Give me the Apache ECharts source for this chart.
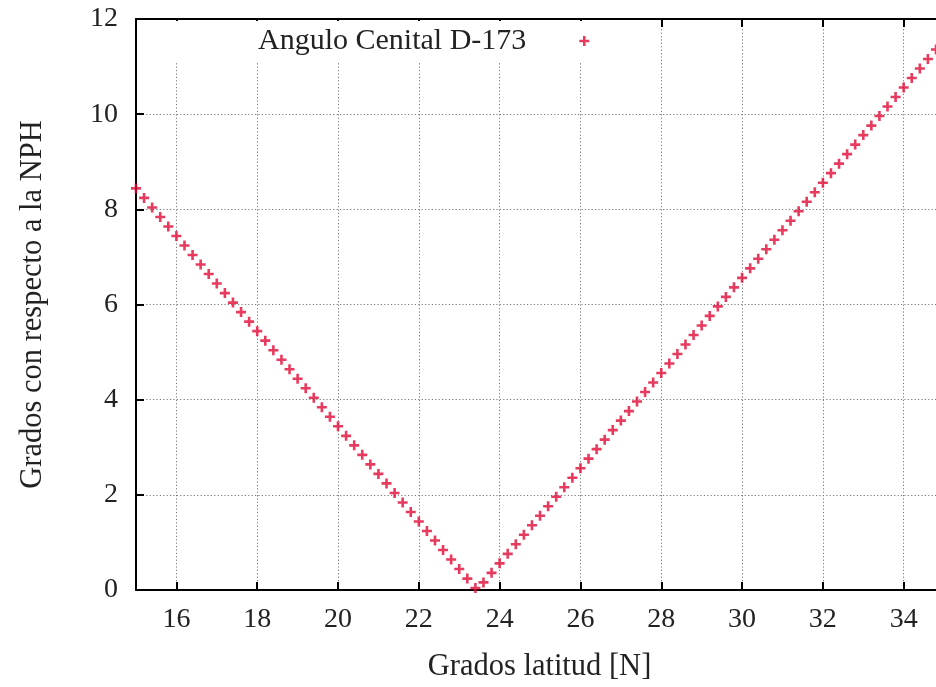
<!DOCTYPE html>
<html>
<head>
<meta charset="utf-8">
<script src="https://cdn.jsdelivr.net/npm/echarts@6/dist/echarts.min.js"></script>
<style>
html,body{margin:0;padding:0;background:#fff;}
#chart{width:936px;height:687px;}
</style>
</head>
<body>
<div id="chart"></div>
<script>
const seriesName = 'Angulo Cenital D-173';
const xLabel = 'Grados latitud [N]';
const yLabel = 'Grados con respecto a la NPH';
const latitudes = [
  15.0,15.2,15.4,15.6,15.8,16.0,16.2,16.4,16.6,16.8,
  17.0,17.2,17.4,17.6,17.8,18.0,18.2,18.4,18.6,18.8,
  19.0,19.2,19.4,19.6,19.8,20.0,20.2,20.4,20.6,20.8,
  21.0,21.2,21.4,21.6,21.8,22.0,22.2,22.4,22.6,22.8,
  23.0,23.2,23.4,23.6,23.8,24.0,24.2,24.4,24.6,24.8,
  25.0,25.2,25.4,25.6,25.8,26.0,26.2,26.4,26.6,26.8,
  27.0,27.2,27.4,27.6,27.8,28.0,28.2,28.4,28.6,28.8,
  29.0,29.2,29.4,29.6,29.8,30.0,30.2,30.4,30.6,30.8,
  31.0,31.2,31.4,31.6,31.8,32.0,32.2,32.4,32.6,32.8,
  33.0,33.2,33.4,33.6,33.8,34.0,34.2,34.4,34.6,34.8,35.0
];
const zenithAngles = [
  8.44,8.24,8.04,7.84,7.64,7.44,7.24,7.04,6.84,6.64,
  6.44,6.24,6.04,5.84,5.64,5.44,5.24,5.04,4.84,4.64,
  4.44,4.24,4.04,3.84,3.64,3.44,3.24,3.04,2.84,2.64,
  2.44,2.24,2.04,1.84,1.64,1.44,1.24,1.04,0.84,0.64,
  0.44,0.24,0.04,0.16,0.36,0.56,0.76,0.96,1.16,1.36,
  1.56,1.76,1.96,2.16,2.36,2.56,2.76,2.96,3.16,3.36,
  3.56,3.76,3.96,4.16,4.36,4.56,4.76,4.96,5.16,5.36,
  5.56,5.76,5.96,6.16,6.36,6.56,6.76,6.96,7.16,7.36,
  7.56,7.76,7.96,8.16,8.36,8.56,8.76,8.96,9.16,9.36,
  9.56,9.76,9.96,10.16,10.36,10.56,10.76,10.96,11.16,11.36,11.56
];
const xTicks = [16,18,20,22,24,26,28,30,32,34];
const yTicks = [0,2,4,6,8,10,12];

const FONT = '"Liberation Serif", "DejaVu Serif", serif';
const plus = 'path://M3.7,0H6.3V3.7H10V6.3H6.3V10H3.7V6.3H0V3.7H3.7Z';
const red = '#e00a36';

const chart = echarts.init(document.getElementById('chart'));
const axisLineStyle = {color:'#000', width:2};
const splitStyle = {show:true, lineStyle:{color:'#7a7a7a', width:1, type:[1.2,2.2]}};

chart.setOption({
  animation:false,
  backgroundColor:'#fff',
  grid:{left:136, top:19, bottom:95.5, right:0, containLabel:false},
  legend:{
    data:[{name:seriesName, icon:plus}],
    left:150, top:21,
    padding:[5,0,5,108],
    align:'right',
    itemWidth:106, itemHeight:10,
    backgroundColor:'#fff',
    textStyle:{fontFamily:FONT, fontSize:30, color:'#222'}
  },
  xAxis:[{
    type:'value', min:15, max:34.8, splitNumber:10,
    name:xLabel, nameLocation:'middle', nameGap:61,
    nameTextStyle:{fontFamily:FONT, fontSize:30.5, color:'#222', padding:[0,0,0,7]},
    axisLine:{show:true, onZero:false, lineStyle:axisLineStyle},
    axisTick:{show:true, inside:true, length:8, lineStyle:{color:'#000', width:2},
      customValues:xTicks},
    axisLabel:{fontFamily:FONT, fontSize:28, color:'#222', margin:16,
      customValues:xTicks},
    splitLine:splitStyle
  },{
    type:'value', min:15, max:34.8, position:'top', splitNumber:10,
    axisLine:{show:true, onZero:false, lineStyle:axisLineStyle},
    axisTick:{show:true, inside:true, length:8, lineStyle:{color:'#000', width:2},
      customValues:xTicks},
    axisLabel:{show:false},
    splitLine:{show:false}
  }],
  yAxis:[{
    type:'value', min:0, max:12, interval:2,
    name:yLabel, nameLocation:'middle', nameGap:88,
    nameTextStyle:{fontFamily:FONT, fontSize:30.5, color:'#222'},
    axisLine:{show:true, onZero:false, lineStyle:axisLineStyle},
    axisTick:{show:true, inside:true, length:8, lineStyle:{color:'#000', width:2}},
    axisLabel:{fontFamily:FONT, fontSize:28, color:'#222', margin:18},
    splitLine:splitStyle
  }],
  series:[{
    name:seriesName,
    type:'scatter',
    symbol:plus,
    symbolSize:10,
    itemStyle:{color:red},
    clip:false,
    data:latitudes.map((x,i)=>[x, zenithAngles[i]])
  }]
});
</script>
</body>
</html>
